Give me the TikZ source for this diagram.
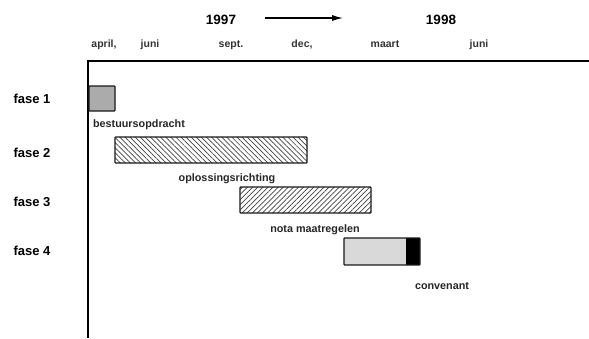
\documentclass[tikz,border=0pt]{standalone}
\usepackage{fontspec}
\setmainfont{Liberation Sans}
\usetikzlibrary{patterns.meta,arrows.meta}
\begin{document}
\begin{tikzpicture}[x=1pt,y=-1pt,
  fase/.style={font=\bfseries\fontsize{13}{15}\selectfont, anchor=base west},
  month/.style={font=\bfseries\fontsize{10.5}{12}\selectfont, text=black!80, anchor=base},
  year/.style={font=\bfseries\fontsize{13.5}{15}\selectfont, anchor=base},
  lbl/.style={font=\bfseries\fontsize{10.8}{12}\selectfont, text=black!85, anchor=base},
  bar/.style={draw=black!90, line width=1.3pt, rounded corners=0.8pt}]
\useasboundingbox (0,0) rectangle (589,338);
% frame
\draw[line width=2.6pt] (88,338) -- (88,61) -- (589,61);
% years
\node[year] (y97) at (221,24) {1997};
\node[year] (y98) at (441,24) {1998};
\coordinate (a1) at (265,18);
\coordinate (a2) at (343,18);
\draw[line width=1.2pt,-{Latex[length=11pt,width=6pt]}] (a1) -- (a2);
% months
\node[month] (m1) at (104,47) {april,};
\node[month] (m2) at (150,47) {juni};
\node[month] (m3) at (231,47) {sept.};
\node[month] (m4) at (302,47) {dec,};
\node[month] (m5) at (385,47) {maart};
\node[month] (m6) at (479,47) {juni};
% phases
\node[fase] (f1) at (10,103) {fase 1};
\node[fase] (f2) at (10,157) {fase 2};
\node[fase] (f3) at (10,206) {fase 3};
\node[fase] (f4) at (10,255) {fase 4};
% bars
\draw[bar, fill=black!33] (89,86) rectangle (115,111);
\draw[bar, pattern={Lines[angle=-45,distance=3.6pt,line width=0.7pt]}, pattern color=black!75] (115,137) rectangle (307,163);
\draw[bar, pattern={Lines[angle=45,distance=3.6pt,line width=0.7pt]}, pattern color=black!75] (240,187) rectangle (371,213);
\fill[black!15] (344,238) rectangle (406,265);
\fill[black] (406,238) rectangle (420,265);
\draw[bar] (344,238) rectangle (420,265);
% labels
\node[lbl] (l1) at (139,127) {bestuursopdracht};
\node[lbl] (l2) at (227,181) {oplossingsrichting};
\node[lbl] (l3) at (315,232) {nota maatregelen};
\node[lbl] (l4) at (442,289) {convenant};
\end{tikzpicture}
\end{document}
